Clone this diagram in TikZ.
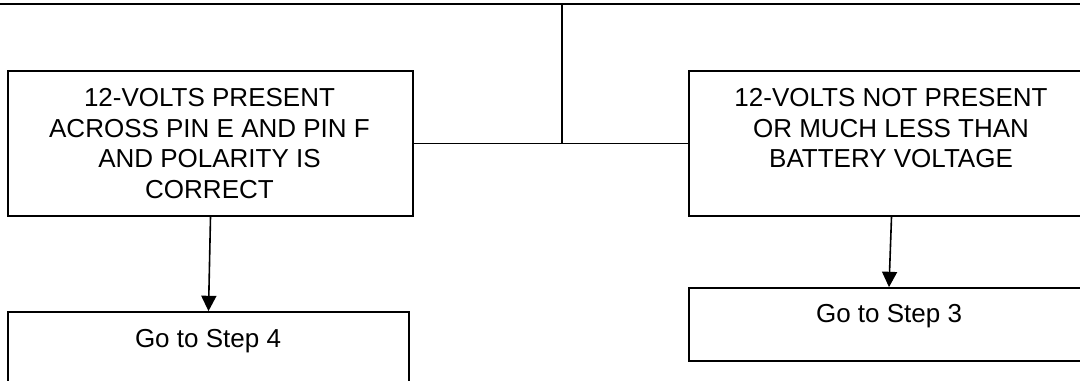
\documentclass[tikz,border=0pt]{standalone}
\usepackage{fontspec}
\setmainfont{Liberation Sans}
\usetikzlibrary{arrows.meta}
\begin{document}
\begin{tikzpicture}[x=0.75pt,y=-0.75pt,
  box/.style={draw,line width=1.3pt,rectangle,inner sep=0pt},
  txt/.style={font=\fontsize{19.5}{23}\selectfont,align=center,inner sep=0pt},
  conn/.style={line width=1.3pt},
  arr/.style={line width=1.2pt,-{Triangle[length=11.5pt,width=11.25pt]}}]
\useasboundingbox (0,0) rectangle (1080,381);
\clip (0,0) rectangle (1080,381);
\node[box,minimum width=303.75pt,minimum height=108.75pt] (lt) at (210.5,143.5) {};
\node[box,minimum width=303.75pt,minimum height=108.75pt] (rt) at (891.5,143.5) {};
\node[box,minimum width=300.75pt,minimum height=75pt] (lb) at (208.5,362) {};
\node[box,minimum width=300pt,minimum height=54.75pt] (rb) at (889,324.5) {};
\node[txt,anchor=north] (ltt) at (209.5,88) {12-VOLTS PRESENT\\ACROSS PIN E AND PIN F\\AND POLARITY IS\\CORRECT};
\node[txt,anchor=north] (rtt) at (891,88) {12-VOLTS NOT PRESENT\\OR MUCH LESS THAN\\BATTERY VOLTAGE};
\node[txt,anchor=base] (lbt) at (208,347) {Go to Step 4};
\node[txt,anchor=base] (rbt) at (889,322) {Go to Step 3};
\coordinate (tl) at (0,4);
\coordinate (tr) at (1080,4);
\coordinate (j) at (562,4);
\coordinate (m) at (562,143.5);
\draw[conn] (tl) -- (tr);
\draw[conn] (j) -- (m);
\draw[conn] (lt.east) -- (rt.west);
\draw[arr] (lt.south) -- (lb.north);
\draw[arr] (rt.south) -- (rb.north);
\end{tikzpicture}
\end{document}
